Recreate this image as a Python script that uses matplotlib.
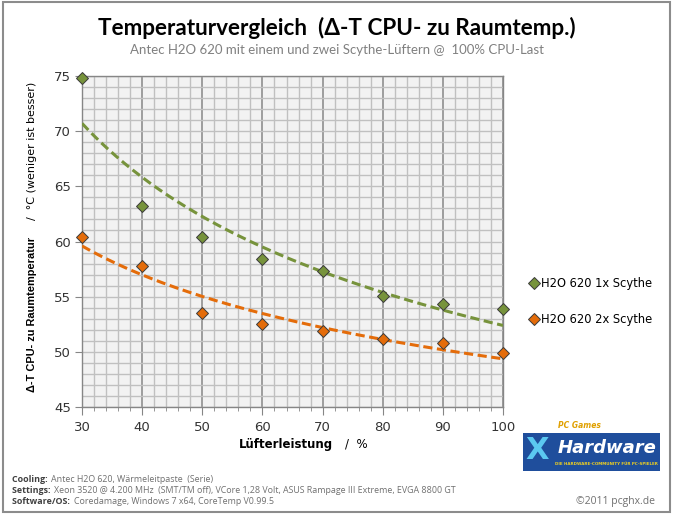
import matplotlib
matplotlib.use("Agg")
import matplotlib.pyplot as plt
from matplotlib.patches import Rectangle
from matplotlib.ticker import MultipleLocator
import numpy as np

# data
fan = [30, 40, 50, 60, 70, 80, 90, 100]
one_fan = [74.8, 63.2, 60.4, 58.4, 57.3, 55.1, 54.3, 53.9]
two_fans = [60.4, 57.8, 53.5, 52.5, 51.9, 51.2, 50.8, 49.9]
series_labels = ["H2O 620 1x Scythe", "H2O 620 2x Scythe"]

GREEN = "#77933c"; ORANGE = "#e46c0a"
GRID = "#c0c0c0"; MAJ = "#868686"

fig = plt.figure(figsize=(6.74, 5.16), dpi=100)
fig.patch.set_facecolor("white")
fig.add_artist(Rectangle((0.004, 0.008), 0.99, 0.988, transform=fig.transFigure,
                         fill=False, ec="#8c8c8c", lw=1.5))

ax = fig.add_axes([0.1217, 0.2112, 0.6246, 0.6415])
ax.set_facecolor("#f2f2f2")
ax.set_xlim(30, 100); ax.set_ylim(45, 75)
ax.xaxis.set_major_locator(MultipleLocator(10))
ax.xaxis.set_minor_locator(MultipleLocator(2))
ax.yaxis.set_major_locator(MultipleLocator(5))
ax.yaxis.set_minor_locator(MultipleLocator(1))
ax.grid(which="minor", color=GRID, lw=1.0)
ax.grid(which="major", axis="y", color=GRID, lw=1.0)
ax.grid(which="major", axis="x", color=MAJ, lw=1.1)
ax.set_axisbelow(True)
for s in ax.spines.values():
    s.set_color(MAJ); s.set_linewidth(1.0)
ax.tick_params(which="major", axis="x", length=6, color=MAJ, labelsize=9.5, pad=4)
ax.tick_params(which="minor", axis="x", length=3, color=MAJ)
ax.tick_params(which="major", axis="y", length=5, color=MAJ, labelsize=9.5, pad=3)
ax.tick_params(which="minor", axis="y", length=0)
for lab in ax.get_xticklabels() + ax.get_yticklabels():
    lab.set_color("#333333")

# power trendlines, like the spreadsheet's
xs = np.linspace(30, 100, 200)
for ys, c in [(one_fan, GREEN), (two_fans, ORANGE)]:
    b, a = np.polyfit(np.log(fan), np.log(ys), 1)
    ax.plot(xs, np.exp(a) * xs ** b, color=c, lw=2.2, ls=(0, (3, 1.5)), zorder=3)

for ys, c, lab in [(one_fan, GREEN, series_labels[0]), (two_fans, ORANGE, series_labels[1])]:
    ax.plot(fan, ys, ls="none", marker="D", ms=6.5, mfc=c, mec="#3a3a3a", mew=0.7,
            clip_on=False, zorder=5, label=lab)

leg = ax.legend(loc="center left", bbox_to_anchor=(1.035, 0.32), frameon=False,
                fontsize=8.3, handletextpad=0.1, handlelength=1.0, labelspacing=2.0)

# titles
fig.text(0.5, 0.946, "Temperaturvergleich  (Δ-T CPU- zu Raumtemp.)", ha="center", va="center",
         fontsize=16.2, fontweight="bold", family="Lato")
fig.text(0.5, 0.903, "Antec H2O 620 mit einem und zwei Scythe-Lüftern @  100% CPU-Last",
         ha="center", va="center", fontsize=9.5, color="#808080", family="Lato")

# axis labels
fig.text(0.048, 1 - 392 / 516, "Δ-T CPU- zu Raumtemperatur", rotation=90, ha="center",
         va="bottom", fontsize=7.9, fontweight="bold", family="Liberation Sans")
fig.text(0.048, 1 - 82 / 516, "/  °C (weniger ist besser)", rotation=90, ha="center",
         va="top", fontsize=8.0)
fig.text(0.494, 0.139, "Lüfterleistung", ha="right", va="center", fontsize=8.5, fontweight="bold")
fig.text(0.512, 0.139, "/  %", ha="left", va="center", fontsize=8.5)

# footer
foot = [("Cooling:", "Antec H2O 620, Wärmeleitpaste  (Serie)", 0.070),
        ("Settings:", "Xeon 3520 @ 4.200 MHz  (SMT/TM off), VCore 1,28 Volt, ASUS Rampage III Extreme, EVGA 8800 GT", 0.049),
        ("Software/OS:", "Coredamage, Windows 7 x64, CoreTemp V0.99.5", 0.028)]
for key, val, yy in foot:
    t = fig.text(0.018, yy, key + " ", ha="left", va="center", fontsize=6.4,
                 color="#404040", family="Open Sans", fontweight="bold")
    fig.canvas.draw()
    bb = t.get_window_extent()
    fig.text(bb.x1 / fig.bbox.width + 0.002, yy, val, ha="left", va="center", fontsize=6.4,
             color="#707070", family="Open Sans")
fig.text(0.972, 0.028, "©2011 pcghx.de", ha="right", va="center", fontsize=7.5,
         color="#707070", family="Open Sans")

# logo stand-in
fig.add_artist(Rectangle((0.776, 0.088), 0.203, 0.072, transform=fig.transFigure,
                         fc="#1f4e9c", ec="none"))
fig.text(0.779, 0.126, "X", ha="left", va="center", fontsize=22, fontweight="bold",
         color="#5bc8f0", family="DejaVu Sans")
fig.text(0.9, 0.132, "Hardware", ha="center", va="center", fontsize=13, fontweight="bold",
         style="italic", color="white", family="DejaVu Sans")
fig.text(0.9, 0.1, "DIE HARDWARE-COMMUNITY FÜR PC-SPIELER", ha="center", va="center",
         fontsize=2.9, color="#f0d020", fontweight="bold")
fig.text(0.86, 0.176, "PC Games", ha="center", va="center", fontsize=5.5, color="#e0a000",
         fontweight="bold", style="italic")

fig.savefig("out.png", dpi=100)
